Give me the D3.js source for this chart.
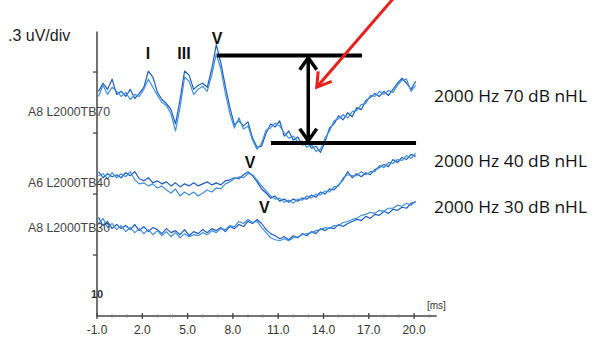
<!DOCTYPE html>
<html>
<head>
<meta charset="utf-8">
<script src="https://cdn.jsdelivr.net/npm/d3@7/dist/d3.min.js"></script>
<style>
	html, body { margin: 0; padding: 0; background: #fff; }
	svg { display: block; }
</style>
</head>
<body>
<div id="chart"></div>
<script>
// sample times (ms), shared by every sweep
var sampleMs = [-0.9, -0.6, -0.3, 0.0, 0.3, 0.6, 0.9, 1.2, 1.5, 1.8,
	2.1, 2.4, 2.7, 3.0, 3.3, 3.6, 3.9, 4.2, 4.5, 4.8,
	5.1, 5.4, 5.7, 6.0, 6.3, 6.6, 6.9, 7.2, 7.5, 7.8,
	8.1, 8.4, 8.7, 9.0, 9.3, 9.6, 9.9, 10.2, 10.5, 10.8,
	11.1, 11.4, 11.7, 12.0, 12.3, 12.6, 12.9, 13.2, 13.5, 13.8,
	14.1, 14.4, 14.7, 15.0, 15.3, 15.6, 15.9, 16.2, 16.5, 16.8,
	17.1, 17.4, 17.7, 18.0, 18.3, 18.6, 18.9, 19.2, 19.5, 19.8, 20.1];

// amplitudes (uV) relative to each sweep baseline, two replicates per level
var wave70a = [0.105, 0.145, 0.115, 0.165, 0.09, 0.105, 0.08, 0.115, 0.07, 0.095,
	0.125, 0.205, 0.175, 0.1, 0.065, 0.045, 0.015, -0.055, 0.065, 0.205,
	0.185, 0.115, 0.135, 0.145, 0.125, 0.215, 0.335, 0.245, 0.13, 0.025,
	-0.06, -0.04, -0.065, -0.045, -0.125, -0.17, -0.165, -0.1, -0.055, -0.07,
	-0.04, -0.115, -0.09, -0.135, -0.12, -0.16, -0.135, -0.175, -0.165, -0.195,
	-0.145, -0.075, -0.055, -0.015, -0.035, 0, -0.02, 0.025, 0.015, 0.06,
	0.075, 0.095, 0.08, 0.105, 0.085, 0.115, 0.145, 0.17, 0.145, 0.115, 0.155];
var wave70b = [0.08, 0.135, 0.09, 0.125, 0.105, 0.08, 0.1, 0.065, 0.09, 0.08,
	0.115, 0.165, 0.125, 0.085, 0.05, 0.035, -0.005, -0.09, 0.025, 0.175,
	0.155, 0.09, 0.115, 0.13, 0.105, 0.185, 0.29, 0.215, 0.095, -0.005,
	-0.075, -0.025, -0.08, -0.065, -0.135, -0.18, -0.15, -0.085, -0.075, -0.05,
	-0.065, -0.1, -0.125, -0.115, -0.145, -0.14, -0.17, -0.155, -0.19, -0.18,
	-0.125, -0.09, -0.04, -0.03, -0.01, -0.025, 0.005, 0.01, 0.04, 0.045,
	0.085, 0.08, 0.105, 0.09, 0.11, 0.1, 0.135, 0.16, 0.165, 0.105, 0.135];
var wave40a = [0.06, 0.03, 0.05, 0.035, 0.045, 0.03, 0.055, 0.04, 0.06, 0.025,
	0.015, 0.03, 0.005, 0.015, 0, 0.01, -0.01, 0.005, -0.015, 0,
	-0.01, 0.005, -0.01, 0, 0.01, -0.005, 0.005, -0.005, 0.015, 0.02,
	0.03, 0.025, 0.045, 0.06, 0.04, 0.01, -0.025, -0.045, -0.07, -0.06,
	-0.085, -0.075, -0.09, -0.075, -0.085, -0.07, -0.075, -0.055, -0.065, -0.04,
	-0.05, -0.025, -0.03, -0.005, 0.02, 0.06, 0.03, 0.05, 0.035, 0.055,
	0.045, 0.07, 0.08, 0.095, 0.085, 0.12, 0.105, 0.13, 0.12, 0.145, 0.135];
var wave40b = [0.04, 0.05, 0.025, 0.055, 0.03, 0.05, 0.035, 0.06, 0.02, 0,
	0.005, -0.01, 0, -0.02, -0.01, -0.03, -0.045, -0.025, -0.06, -0.04,
	-0.055, -0.04, -0.06, -0.045, -0.03, -0.04, -0.02, -0.025, 0, 0.01,
	0.025, 0.035, 0.03, 0.05, 0.045, 0.02, -0.01, -0.035, -0.06, -0.075,
	-0.07, -0.09, -0.08, -0.095, -0.075, -0.08, -0.06, -0.07, -0.05, -0.055,
	-0.035, -0.04, -0.015, -0.01, 0.03, 0.045, 0.04, 0.04, 0.06, 0.045,
	0.06, 0.06, 0.09, 0.08, 0.105, 0.1, 0.12, 0.115, 0.14, 0.125, 0.15];
var wave30a = [0.055, 0.015, 0.035, 0, 0.02, 0, 0.015, -0.005, 0.02, -0.01,
	0.01, -0.015, 0.005, -0.005, -0.025, 0, -0.02, -0.01, -0.03, -0.005,
	-0.035, -0.015, -0.025, -0.005, -0.02, 0, -0.01, 0.005, -0.015, 0.01,
	0, 0.02, 0.01, 0.035, 0.025, 0.045, 0.025, -0.005, -0.025, -0.035,
	-0.05, -0.04, -0.055, -0.035, -0.045, -0.025, -0.035, -0.015, -0.025, 0,
	-0.01, 0.005, 0, 0.02, 0.01, 0.025, 0.035, 0.045, 0.04, 0.06,
	0.05, 0.07, 0.065, 0.085, 0.075, 0.095, 0.09, 0.105, 0.1, 0.125, 0.13];
var wave30b = [0.025, 0.05, 0.005, 0.025, -0.005, 0.015, -0.015, 0.005, -0.02, 0,
	-0.025, -0.005, -0.03, -0.01, -0.035, -0.015, -0.04, -0.02, -0.045, -0.025,
	-0.04, -0.03, -0.035, -0.02, -0.03, -0.01, -0.02, 0, -0.005, 0.015,
	0.01, 0.035, 0.025, 0.045, 0.03, 0.035, 0.005, -0.02, -0.045, -0.055,
	-0.06, -0.05, -0.06, -0.045, -0.04, -0.03, -0.025, -0.02, -0.01, -0.005,
	0.005, 0, 0.015, 0.015, 0.03, 0.035, 0.045, 0.05, 0.065, 0.07,
	0.08, 0.075, 0.09, 0.085, 0.1, 0.1, 0.115, 0.11, 0.125, 0.115, 0.135];

var sweepOffsets = [1.0, 0.65, 0.43];
var sweepCodes = ['A8 L2000TB70', 'A6 L2000TB40', 'A8 L2000TB30'];
var sweepTitles = ['2000 Hz 70 dB nHL', '2000 Hz 40 dB nHL', '2000 Hz 30 dB nHL'];

var xTicks = [-1, 2, 5, 8, 11, 14, 17, 20];
var yTicks = [0.3, 0.6, 0.9, 1.2];

// wave peak labels: [name, ms, uV]
var peakLabels = [['I', 2.38, 1.264], ['III', 4.76, 1.264], ['V', 6.95, 1.338], ['V', 9.13, 0.728], ['V', 10.09, 0.507]];

// amplitude marker (ms, uV)
var topBar = [[6.95, 1.282], [16.55, 1.282]];
var bottomBar = [[10.52, 0.851], [20.13, 0.851]];
var ampArrow = [[12.99, 1.27], [12.99, 0.862]];
var redArrow = [[18.6, 1.56], [13.55, 1.125]];

var width = 600, height = 352;

var x = d3.scaleLinear().domain([-1, 20]).range([97, 414.1]);
var y = d3.scaleLinear().domain([0, 1.4]).range([316, 31.4]);

var svg = d3.select('#chart').append('svg')
	.attr('width', width)
	.attr('height', height);

var g = svg.append('g');

// axes
g.append('line')
	.attr('x1', x(-1)).attr('x2', x(-1))
	.attr('y1', y(1.4)).attr('y2', y(0))
	.attr('stroke', '#444').attr('stroke-width', 1.5);
g.append('line')
	.attr('x1', x(-1)).attr('x2', x(21.5))
	.attr('y1', y(0)).attr('y2', y(0))
	.attr('stroke', '#444').attr('stroke-width', 1.5);

g.selectAll('.ytick').data(yTicks).enter().append('line')
	.attr('x1', x(-1) - 4).attr('x2', x(-1))
	.attr('y1', function(d) { return y(d); })
	.attr('y2', function(d) { return y(d); })
	.attr('stroke', '#444').attr('stroke-width', 1.3);

g.selectAll('.xminor').data(d3.range(-1, 22, 1)).enter().append('line')
	.attr('x1', function(d) { return x(d); })
	.attr('x2', function(d) { return x(d); })
	.attr('y1', y(0) - 1.5).attr('y2', y(0) + 1.5)
	.attr('stroke', '#777').attr('stroke-width', 1);

g.selectAll('.xtick').data(xTicks).enter().append('line')
	.attr('x1', function(d) { return x(d); })
	.attr('x2', function(d) { return x(d); })
	.attr('y1', y(0) - 3).attr('y2', y(0) + 3)
	.attr('stroke', '#444').attr('stroke-width', 1.3);

g.selectAll('.xlabel').data(xTicks).enter().append('text')
	.attr('x', function(d) { return x(d); })
	.attr('y', 334)
	.attr('text-anchor', 'middle')
	.style('font-family', 'Liberation Sans, Arial, sans-serif')
	.style('font-size', '12px')
	.attr('fill', '#333')
	.text(function(d) { return d.toFixed(1); });

g.append('text')
	.attr('x', 427).attr('y', 309)
	.style('font-family', 'Liberation Sans, Arial, sans-serif')
	.style('font-size', '10px')
	.attr('fill', '#333')
	.text('[ms]');

g.append('text')
	.attr('x', 8).attr('y', 41)
	.style('font-family', 'Liberation Sans, Arial, sans-serif')
	.style('font-size', '16px')
	.attr('fill', '#222')
	.text('.3 uV/div');

g.append('text')
	.attr('x', 91).attr('y', 298)
	.style('font-family', 'Liberation Sans, Arial, sans-serif')
	.style('font-size', '11px')
	.style('font-weight', 'bold')
	.attr('fill', '#333')
	.text('10');

// sweeps
var line = d3.line()
	.x(function(d) { return x(d[0]); })
	.y(function(d) { return y(d[1]); });

var sweeps = [[wave70a, wave70b], [wave40a, wave40b], [wave30a, wave30b]];
var sweepColors = ['#1c5cc0', '#3f8fe0'];

sweeps.forEach(function(pair, i) {
	pair.forEach(function(vals, j) {
		var pts = vals.map(function(v, k) { return [sampleMs[k], sweepOffsets[i] + v]; });
		g.append('path').datum(pts)
			.attr('fill', 'none')
			.attr('stroke', sweepColors[j])
			.attr('stroke-width', 1.2)
			.attr('stroke-linejoin', 'round')
			.attr('d', line);
	});

	g.append('text')
		.attr('x', 28)
		.attr('y', y(sweepOffsets[i]) + 3)
		.attr('textLength', 82)
		.attr('lengthAdjust', 'spacingAndGlyphs')
		.style('font-family', 'Liberation Sans, Arial, sans-serif')
		.style('font-size', '12px')
		.attr('fill', '#444')
		.text(sweepCodes[i]);
});

g.selectAll('.peak').data(peakLabels).enter().append('text')
	.attr('x', function(d) { return x(d[1]); })
	.attr('y', function(d) { return y(d[2]); })
	.attr('text-anchor', 'middle')
	.style('font-family', 'Liberation Sans, Arial, sans-serif')
	.style('font-size', '16px')
	.style('font-weight', 'bold')
	.attr('fill', '#111')
	.text(function(d) { return d[0]; });

var titleY = [102, 167, 213];
g.selectAll('.title').data(sweepTitles).enter().append('text')
	.attr('x', 434)
	.attr('y', function(d, i) { return titleY[i]; })
	.attr('textLength', 153)
	.attr('lengthAdjust', 'spacingAndGlyphs')
	.style('font-family', 'Open Sans, Noto Sans, sans-serif')
	.style('font-size', '17px')
	.attr('fill', '#111')
	.text(function(d) { return d; });

// amplitude marker
[topBar, bottomBar].forEach(function(b) {
	g.append('line')
		.attr('x1', x(b[0][0])).attr('y1', y(b[0][1]))
		.attr('x2', x(b[1][0])).attr('y2', y(b[1][1]))
		.attr('stroke', '#000').attr('stroke-width', 4);
});

var ax = x(ampArrow[0][0]), ay1 = y(ampArrow[0][1]), ay2 = y(ampArrow[1][1]);
g.append('line')
	.attr('x1', ax).attr('y1', ay1)
	.attr('x2', ax).attr('y2', ay2)
	.attr('stroke', '#000').attr('stroke-width', 3.5);
g.append('path')
	.attr('d', 'M' + (ax - 8.5) + ',' + (ay1 + 12) + 'L' + ax + ',' + ay1 + 'L' + (ax + 8.5) + ',' + (ay1 + 12) +
		'M' + (ax - 8.5) + ',' + (ay2 - 12) + 'L' + ax + ',' + ay2 + 'L' + (ax + 8.5) + ',' + (ay2 - 12))
	.attr('fill', 'none')
	.attr('stroke', '#000').attr('stroke-width', 3.5)
	.attr('stroke-linejoin', 'miter');

// red pointer
var rx1 = x(redArrow[0][0]), ry1 = y(redArrow[0][1]);
var rx2 = x(redArrow[1][0]), ry2 = y(redArrow[1][1]);
g.append('line')
	.attr('x1', rx1).attr('y1', ry1)
	.attr('x2', rx2).attr('y2', ry2)
	.attr('stroke', '#e8201c').attr('stroke-width', 3);
g.append('path')
	.attr('d', 'M' + (rx2 + 1.5) + ',' + (ry2 - 16) + 'L' + rx2 + ',' + ry2 + 'L' + (rx2 + 15) + ',' + (ry2 - 6))
	.attr('fill', 'none')
	.attr('stroke', '#e8201c').attr('stroke-width', 3)
	.attr('stroke-linejoin', 'miter');
</script>
</body>
</html>
